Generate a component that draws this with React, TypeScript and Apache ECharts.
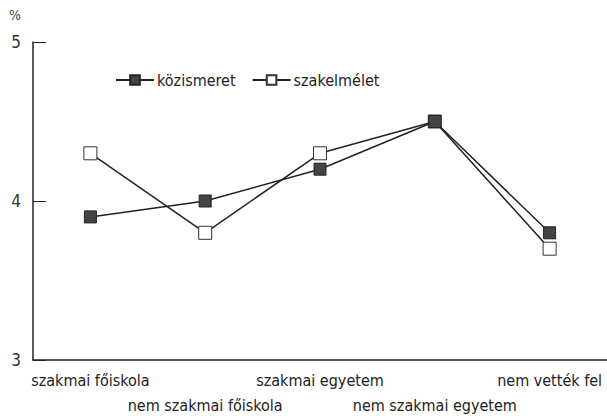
import React, { useEffect, useRef } from "react";
import * as echarts from "echarts";

const categories = [
  "szakmai főiskola",
  "nem szakmai főiskola",
  "szakmai egyetem",
  "nem szakmai egyetem",
  "nem vették fel",
];
const kozismeret = [3.9, 4.0, 4.2, 4.5, 3.8];
const szakelmelet = [4.3, 3.8, 4.3, 4.5, 3.7];
const yTicks = [3, 4, 5];

const FONT = "'Liberation Sans Narrow', 'DejaVu Sans Condensed', 'Roboto Condensed', sans-serif";

export default function App() {
  const ref = useRef<HTMLDivElement>(null);
  useEffect(() => {
    if (!ref.current) return;
    const chart = echarts.init(ref.current, null, { renderer: "svg" });
    chart.setOption({
      animation: false,
      backgroundColor: "#fff",
      textStyle: { fontFamily: FONT, color: "#222" },
      legend: {
        left: 110,
        top: 67,
        itemWidth: 38,
        itemHeight: 12,
        itemGap: 16,
        textStyle: { fontFamily: FONT, fontSize: 16, color: "#222", padding: [0, 0, 0, -2] },
        data: ["közismeret", "szakelmélet"],
      },
      grid: { left: 33, right: -4, top: 42, bottom: 50, containLabel: false },
      xAxis: {
        type: "category",
        data: categories,
        boundaryGap: true,
        axisLine: { lineStyle: { color: "#222", width: 1.5 } },
        axisTick: { inside: true, length: 6, lineStyle: { color: "#222" } },
        axisLabel: {
          interval: 0,
          fontFamily: FONT,
          fontSize: 16,
          color: "#222",
          margin: 8,
          lineHeight: 25,
          formatter: (v: string, i: number) => (i % 2 === 1 ? "\n" + v : v),
        },
      },
      yAxis: {
        type: "value",
        min: yTicks[0],
        max: yTicks[yTicks.length - 1],
        interval: 1,
        name: "%",
        nameLocation: "end",
        nameGap: 20,
        nameTextStyle: { fontFamily: FONT, fontSize: 14, color: "#444", align: "right", padding: [0, 12, 0, 0] },
        splitLine: { show: false },
        axisLine: { show: true, lineStyle: { color: "#222", width: 1.5 } },
        axisTick: { show: true, inside: true, length: 13, lineStyle: { color: "#222" } },
        axisLabel: { fontFamily: FONT, fontSize: 17, color: "#333", margin: 12 },
      },
      series: [
        {
          name: "közismeret",
          type: "line",
          data: kozismeret,
          symbol: "rect",
          symbolSize: 12,
          lineStyle: { color: "#222", width: 1.5 },
          itemStyle: { color: "#444", borderColor: "#222", borderWidth: 1 },
          z: 3,
        },
        {
          name: "szakelmélet",
          type: "line",
          data: szakelmelet,
          symbol: "rect",
          symbolSize: 13,
          lineStyle: { color: "#222", width: 1.5 },
          itemStyle: { color: "#fff", borderColor: "#333", borderWidth: 1 },
          z: 2,
        },
      ],
    });
    return () => chart.dispose();
  }, []);
  return <div ref={ref} style={{ width: 607, height: 418, position: "absolute", left: 0, top: 0 }} />;
}
